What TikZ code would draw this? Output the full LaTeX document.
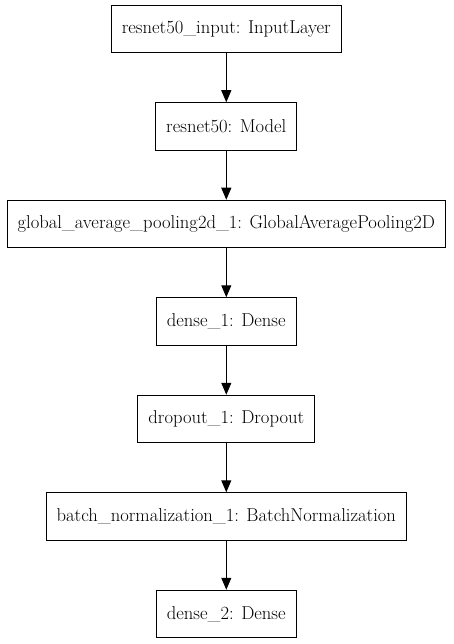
\documentclass[tikz,border=0pt]{standalone}
\usepackage{fontspec}
\usetikzlibrary{positioning,arrows.meta}

\tikzset{
  layer/.style={draw, line width=1pt, minimum height=47.5pt, inner xsep=10.5pt,
    font=\fontsize{18.6}{22}\selectfont},
  flow/.style={-{Triangle[length=12pt,width=10pt]}, line width=1pt}
}

\begin{document}
\begin{tikzpicture}[x=1pt,y=1pt,node distance=49pt]
  \useasboundingbox (0,0) rectangle (453,-644);
  \node[layer] (input) at (226.3,-29) {resnet50\_input: InputLayer};
  \node[layer,below=of input] (resnet) {resnet50: Model};
  \node[layer,below=of resnet] (gap) {global\_average\_pooling2d\_1: GlobalAveragePooling2D};
  \node[layer,below=of gap] (dense1) {dense\_1: Dense};
  \node[layer,below=of dense1] (dropout) {dropout\_1: Dropout};
  \node[layer,below=of dropout] (bnorm) {batch\_normalization\_1: BatchNormalization};
  \node[layer,below=of bnorm] (dense2) {dense\_2: Dense};
  % model flow
  \foreach \a/\b in {input/resnet,resnet/gap,gap/dense1,dense1/dropout,dropout/bnorm,bnorm/dense2}
    \draw[flow] (\a) -- (\b);
\end{tikzpicture}
\end{document}
